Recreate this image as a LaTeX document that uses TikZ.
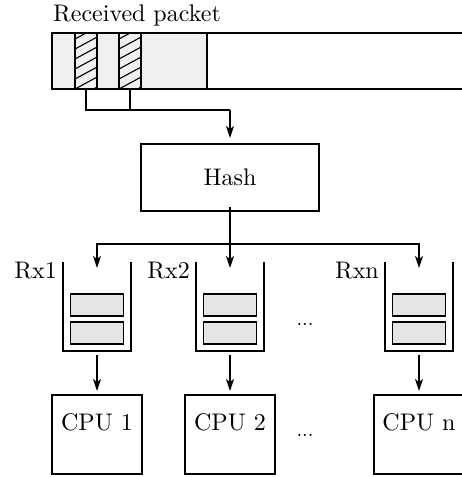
\documentclass[tikz,border=0pt]{standalone}
\usetikzlibrary{arrows.meta,positioning}

\definecolor{pktgray}{gray}{0.94}
\definecolor{slotgray}{gray}{0.90}

% 正文字号放大
\newcommand{\bigtxt}[1]{\scalebox{2.4}{\fontsize{10}{12}\selectfont #1}}
\newcommand{\dotstxt}{\scalebox{2.0}{\fontsize{10}{12}\selectfont ...}}

\tikzset{
    box/.style={draw, line width=1.4pt, rectangle, inner sep=0pt, outer sep=0pt},
    slot/.style={box, fill=slotgray, minimum width=53pt, minimum height=22pt},
    queue/.style={rectangle, inner sep=0pt, outer sep=0pt, minimum width=68pt, minimum height=89pt},
    cpu/.style={box, minimum width=90pt, minimum height=79pt},
    field/.style={box, fill=pktgray, minimum width=22pt, minimum height=56pt,
        path picture={
            \foreach \k in {-2,...,6}
                \draw[line width=1.1pt] ([yshift=\k*10pt]path picture bounding box.south west) -- ++(24,-13);
        }},
    arr/.style={-{Stealth[length=12pt,width=8pt,inset=3pt]}, line width=1.4pt},
    wire/.style={line width=1.6pt}
}

\begin{document}
\begin{tikzpicture}[x=1pt, y=-1pt]
    \useasboundingbox (0,0) rectangle (462,477);

    % 绘制收到的数据包
    \node[anchor=base west, inner sep=0pt] (title) at (53,21) {\bigtxt{Received packet}};
    \node[box, fill=pktgray, minimum width=155pt, minimum height=56pt] (hdr) at (129.5,61) {};
    \draw[box] (hdr.north east) -- ++(300,0);
    \draw[box] (hdr.south east) -- ++(300,0);
    \node[field] (f1) at (86,61) {};
    \node[field] (f2) at (130,61) {};

    % 绘制Hash
    \node[box, minimum width=178pt, minimum height=67pt] (hash) at (230,177.5) {\bigtxt{Hash}};
    \coordinate (join) at (230,110);
    \draw[wire] (f1.south) |- (join);
    \draw[wire] (f2.south) -- (f2.south |- join);
    \draw[arr, shorten >=6pt] (join) -- (hash.north);

    % 绘制接收队列
    \node[queue] (q1) at (97,306.5) {};
    \node[queue] (q2) at (230,306.5) {};
    \node[queue] (qn) at (419,306.5) {};
    \foreach \q/\t in {q1/Rx1, q2/Rx2, qn/Rxn} {
        \draw[wire] (\q.north west) -- (\q.south west) -- (\q.south east) -- (\q.north east);
        \node[slot, above=7pt of \q.south] (\q b) {};
        \node[slot, above=6pt of \q b] (\q a) {};
        \node[anchor=base east, inner sep=0pt] (\q l) at ([xshift=-6pt,yshift=-16pt]\q.north west) {\bigtxt{\t}};
    }
    \node (qdots) at (305,324) {\dotstxt};

    % 从Hash分发到各队列
    \coordinate (split) at (230,244);
    \draw[wire, shorten <=-4pt] (hash.south) -- (split);
    \draw[arr] (split) -| ([yshift=-6pt]q1.north);
    \draw[arr] (split) -- ([yshift=-6pt]q2.north);
    \draw[arr] (split) -| ([yshift=-6pt]qn.north);

    % 绘制CPU
    \node[cpu] (c1) at (97,434.5) {};
    \node[cpu] (c2) at (230,434.5) {};
    \node[cpu] (cn) at (419,434.5) {};
    \foreach \c/\t in {c1/CPU 1, c2/CPU 2, cn/CPU n}
        \node[anchor=base, inner sep=0pt] (\c t) at ([yshift=-35pt]\c.north) {\bigtxt{\t}};
    \node (cdots) at (305,435) {\dotstxt};

    \draw[arr, shorten <=4pt, shorten >=4pt] (q1.south) -- (c1.north);
    \draw[arr, shorten <=4pt, shorten >=4pt] (q2.south) -- (c2.north);
    \draw[arr, shorten <=4pt, shorten >=4pt] (qn.south) -- (cn.north);
\end{tikzpicture}
\end{document}
